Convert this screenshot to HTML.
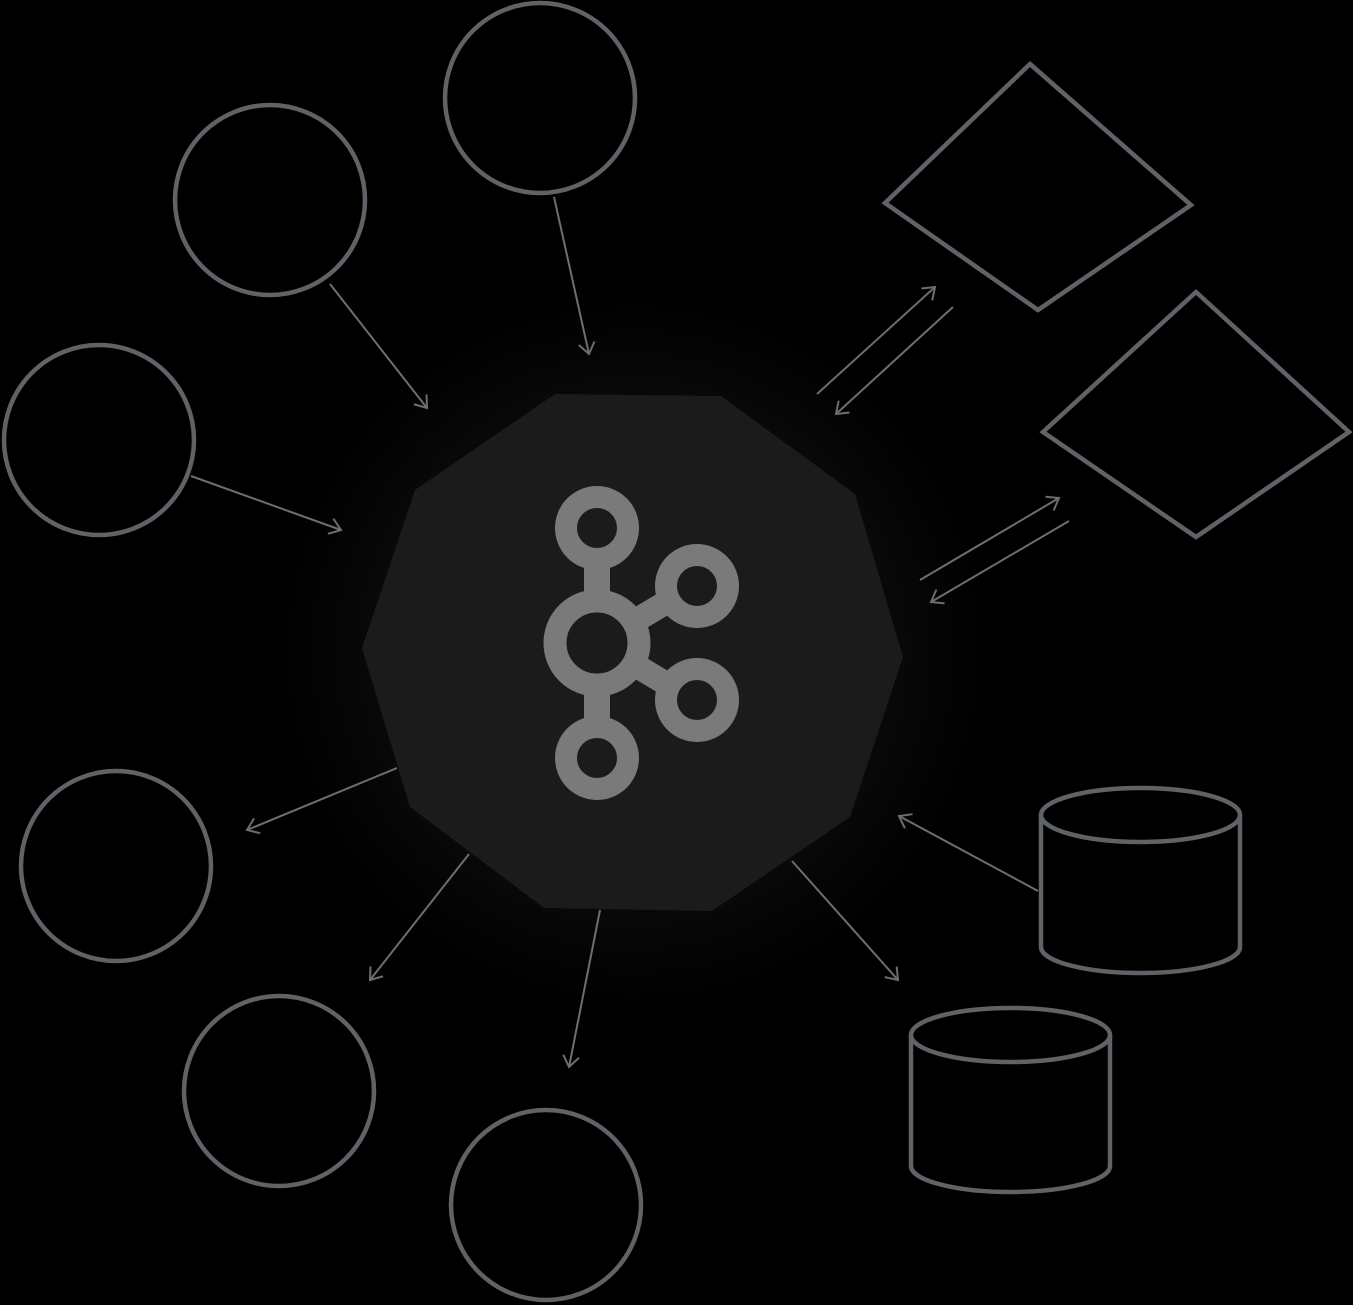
<!DOCTYPE html>
<html><head><style>html,body{margin:0;padding:0;background:#000;}svg{display:block}</style></head>
<body>
<svg width="1353" height="1305" viewBox="0 0 1353 1305" xmlns="http://www.w3.org/2000/svg">
<defs>
<radialGradient id="g" cx="633" cy="652" r="360" gradientUnits="userSpaceOnUse">
<stop offset="0.7" stop-color="#090909"/><stop offset="1" stop-color="#000"/></radialGradient>
<marker id="a" markerWidth="18" markerHeight="18" refX="13" refY="9" orient="auto" markerUnits="userSpaceOnUse">
<path d="M2,1 L13,9 L2,17" fill="none" stroke="#6e6e6e" stroke-width="2"/></marker>
</defs>
<rect width="1353" height="1305" fill="#000"/>
<circle cx="633" cy="652" r="360" fill="url(#g)"/>
<polygon points="555,394 721,396 855,494 903,657 850,817 712,911 544,908 410,807 362,648 415,490" fill="#1b1b1b"/>
<g fill="none" stroke="#7a7a7a">
<line x1="597" y1="560" x2="597" y2="600" stroke-width="26"/>
<line x1="597" y1="690" x2="597" y2="730" stroke-width="26"/>
<line x1="630" y1="624" x2="670" y2="600" stroke-width="24"/>
<line x1="630" y1="662" x2="670" y2="686" stroke-width="24"/>
<circle cx="597" cy="528" r="31" stroke-width="22"/>
<circle cx="597" cy="758" r="31" stroke-width="22"/>
<circle cx="697" cy="586" r="31" stroke-width="22"/>
<circle cx="697" cy="700" r="31" stroke-width="22"/>
<circle cx="597" cy="643" r="42" stroke-width="23"/>
</g>
<g fill="none" stroke="#5f6368" stroke-width="4.5">
<circle cx="540" cy="98" r="95"/>
<circle cx="270" cy="200" r="95"/>
<circle cx="99" cy="440" r="95"/>
<circle cx="116" cy="866" r="95"/>
<circle cx="279" cy="1091" r="95"/>
<circle cx="546" cy="1205" r="95"/>
<polygon points="1030,64 1191,205 1038,310 885,203"/>
<polygon points="1196,292 1349,432 1196,537 1043,432"/>
<path d="M1041,815 L1041,947 A99.5,26 0 0 0 1240,947 L1240,815"/>
<ellipse cx="1140.5" cy="815" rx="99.5" ry="27"/>
<path d="M911,1035 L911,1166 A99.5,26 0 0 0 1110,1166 L1110,1035"/>
<ellipse cx="1010.5" cy="1035" rx="99.5" ry="27"/>
</g>
<g stroke="#6e6e6e" stroke-width="2" marker-end="url(#a)">
<line x1="554" y1="197" x2="589" y2="354"/>
<line x1="330" y1="284" x2="427" y2="408"/>
<line x1="191" y1="476" x2="341" y2="530"/>
<line x1="817" y1="394" x2="935" y2="287"/>
<line x1="953" y1="307" x2="836" y2="414"/>
<line x1="920" y1="580" x2="1059" y2="498"/>
<line x1="1069" y1="521" x2="931" y2="602"/>
<line x1="397" y1="768" x2="247" y2="830"/>
<line x1="469" y1="854" x2="370" y2="980"/>
<line x1="600" y1="910" x2="569" y2="1067"/>
<line x1="792" y1="861" x2="898" y2="980"/>
<line x1="1038" y1="891" x2="899" y2="816"/>
</g>
</svg>
</body></html>
